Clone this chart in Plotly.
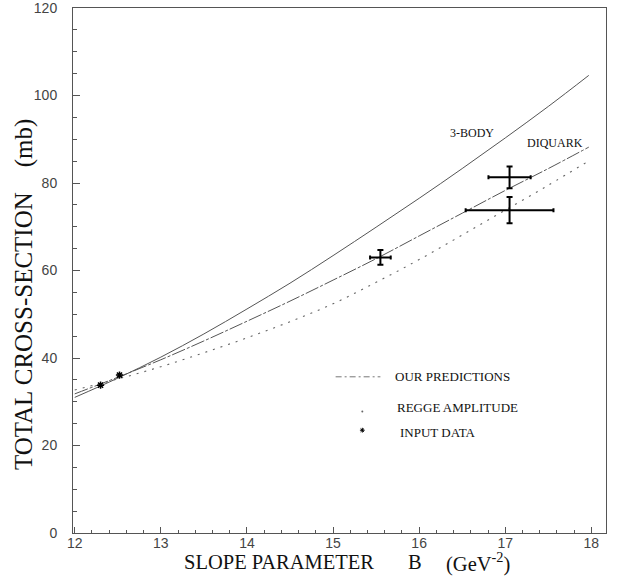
import plotly.graph_objects as go

# Theory curves: total cross-section (mb) against slope parameter B (GeV^-2)
body3_b = [12.0, 12.5, 13.0, 13.5, 14.0, 14.5, 15.0, 15.5, 16.0, 16.5, 17.0, 17.5, 17.97]
body3_sigma = [31.0, 35.4, 40.2, 45.5, 51.2, 57.1, 63.4, 69.9, 76.5, 83.3, 90.3, 97.5, 104.6]

diquark_b = [12.0, 12.5, 13.0, 13.5, 14.0, 14.5, 15.0, 15.5, 16.0, 16.5, 17.0, 17.5, 17.97]
diquark_sigma = [31.8, 35.6, 39.6, 43.9, 48.4, 53.0, 57.8, 62.7, 67.9, 73.1, 78.3, 83.3, 88.2]

regge_b = [12.0, 12.5, 13.0, 13.5, 14.0, 14.5, 15.0, 15.5, 16.0, 16.5, 17.0, 17.5, 17.95]
regge_sigma = [32.7, 35.2, 38.0, 41.2, 44.6, 48.3, 52.4, 57.3, 62.5, 68.1, 73.8, 79.5, 84.8]

# Measurements with errors in B and sigma
meas_b = [15.55, 17.05, 17.05]
meas_sigma = [63.0, 81.3, 73.8]
meas_err_b = [0.12, 0.245, 0.51]
meas_err_sigma = [1.7, 2.5, 3.0]

# Input data points
input_b = [12.30, 12.52]
input_sigma = [33.8, 36.1]

# Curve labels
curve_labels = ["3-BODY", "DIQUARK"]
curve_label_b = [16.61, 17.58]
curve_label_sigma = [91.4, 89.2]

# In-plot key entries
key_texts = ["OUR PREDICTIONS", "REGGE AMPLITUDE", "INPUT DATA"]
key_text_b = [15.70, 15.72, 15.76]
key_sigma = [35.7, 28.8, 22.9]

# x-axis title pieces and their left edges (paper fraction)
xtitle_parts = ["SLOPE PARAMETER", "B", "(GeV<sup>-2</sup>)"]
xtitle_left = [0.2045, 0.6248, 0.696]

x_ticks = [12, 13, 14, 15, 16, 17, 18]
y_ticks = [0, 20, 40, 60, 80, 100, 120]

serif = "Liberation Serif, Times New Roman, serif"
sans = "Liberation Sans, Arial, sans-serif"
ink = "#555555"

fig = go.Figure()

fig.add_trace(go.Scatter(
    x=body3_b, y=body3_sigma, mode="lines", line_shape="spline",
    line=dict(color="#555555", width=1), showlegend=False, hoverinfo="skip"))

fig.add_trace(go.Scatter(
    x=diquark_b, y=diquark_sigma, mode="lines", line_shape="spline",
    line=dict(color="#555555", width=1, dash="14px,2px,3px,2px"),
    showlegend=False, hoverinfo="skip"))

fig.add_trace(go.Scatter(
    x=regge_b, y=regge_sigma, mode="lines", line_shape="spline",
    line=dict(color="#666666", width=1.1, dash="2px,6px"),
    showlegend=False, hoverinfo="skip"))

fig.add_trace(go.Scatter(
    x=meas_b, y=meas_sigma, mode="markers",
    marker=dict(size=2, color="black"),
    error_x=dict(type="data", array=meas_err_b, color="black", thickness=2, width=2),
    error_y=dict(type="data", array=meas_err_sigma, color="black", thickness=2, width=3),
    showlegend=False, hoverinfo="skip"))

fig.add_trace(go.Scatter(
    x=input_b, y=input_sigma, mode="markers",
    marker=dict(symbol="asterisk-open", size=6, color="black", line=dict(width=1.5, color="black")),
    showlegend=False, hoverinfo="skip"))

# Key samples: dash-dot segment, dot, asterisk
fig.add_trace(go.Scatter(
    x=[15.03, 15.55], y=[key_sigma[0], key_sigma[0]], mode="lines",
    line=dict(color="#777777", width=1, dash="6px,3px,2px,3px"),
    showlegend=False, hoverinfo="skip"))
fig.add_trace(go.Scatter(
    x=[15.34], y=[key_sigma[1] - 1.0], mode="markers",
    marker=dict(symbol="circle", size=2, color="#666666"),
    showlegend=False, hoverinfo="skip"))
fig.add_trace(go.Scatter(
    x=[15.34], y=[key_sigma[2] + 0.6], mode="markers",
    marker=dict(symbol="asterisk-open", size=4, color="black", line=dict(width=1, color="black")),
    showlegend=False, hoverinfo="skip"))

for t, bx, sy in zip(key_texts, key_text_b, key_sigma):
    fig.add_annotation(x=bx, y=sy, text=t, showarrow=False, xanchor="left",
                       yanchor="middle", font=dict(family=serif, size=13, color="#111111"))

for t, bx, sy in zip(curve_labels, curve_label_b, curve_label_sigma):
    fig.add_annotation(x=bx, y=sy, text=t, showarrow=False, xanchor="center",
                       yanchor="middle", font=dict(family=serif, size=12, color="#111111"))

# Axis titles
for t, px in zip(xtitle_parts, xtitle_left):
    fig.add_annotation(
        xref="paper", yref="paper", x=px, y=-0.056, text=t,
        showarrow=False, xanchor="left", yanchor="middle",
        font=dict(family=serif, size=20.5, color="#111111"))
fig.add_annotation(
    xref="paper", yref="paper", x=-0.092, y=0.455,
    text="TOTAL CROSS-SECTION&nbsp;&nbsp;&nbsp;&nbsp;(mb)", textangle=-90,
    showarrow=False, xanchor="center", yanchor="middle",
    font=dict(family=serif, size=25, color="#111111"))

fig.update_layout(
    width=618, height=578,
    margin=dict(l=73, r=12, t=8, b=45, autoexpand=False),
    paper_bgcolor="white", plot_bgcolor="white",
    xaxis=dict(
        range=[11.98, 18.17], tickvals=x_ticks, ticktext=[str(v) for v in x_ticks],
        ticks="inside", ticklen=6, tickcolor=ink, tickwidth=1,
        minor=dict(dtick=0.2, ticks="inside", ticklen=3, tickcolor=ink, tickwidth=1),
        showline=True, linecolor=ink, linewidth=1, mirror=True,
        showgrid=False, zeroline=False, ticklabelstandoff=-3,
        ticklabeloverflow="allow", automargin=False,
        tickfont=dict(family=sans, size=14, color="#444444")),
    yaxis=dict(
        range=[0, 120], tickvals=y_ticks, ticktext=[str(v) for v in y_ticks],
        ticks="inside", ticklen=7, tickcolor=ink, tickwidth=1,
        minor=dict(dtick=5, ticks="inside", ticklen=4, tickcolor=ink, tickwidth=1),
        showline=True, linecolor=ink, linewidth=1, mirror=True,
        showgrid=False, zeroline=False, ticklabelstandoff=12,
        ticklabeloverflow="allow", automargin=False,
        tickfont=dict(family=sans, size=14, color="#444444")),
)

fig.write_html("out.html")
